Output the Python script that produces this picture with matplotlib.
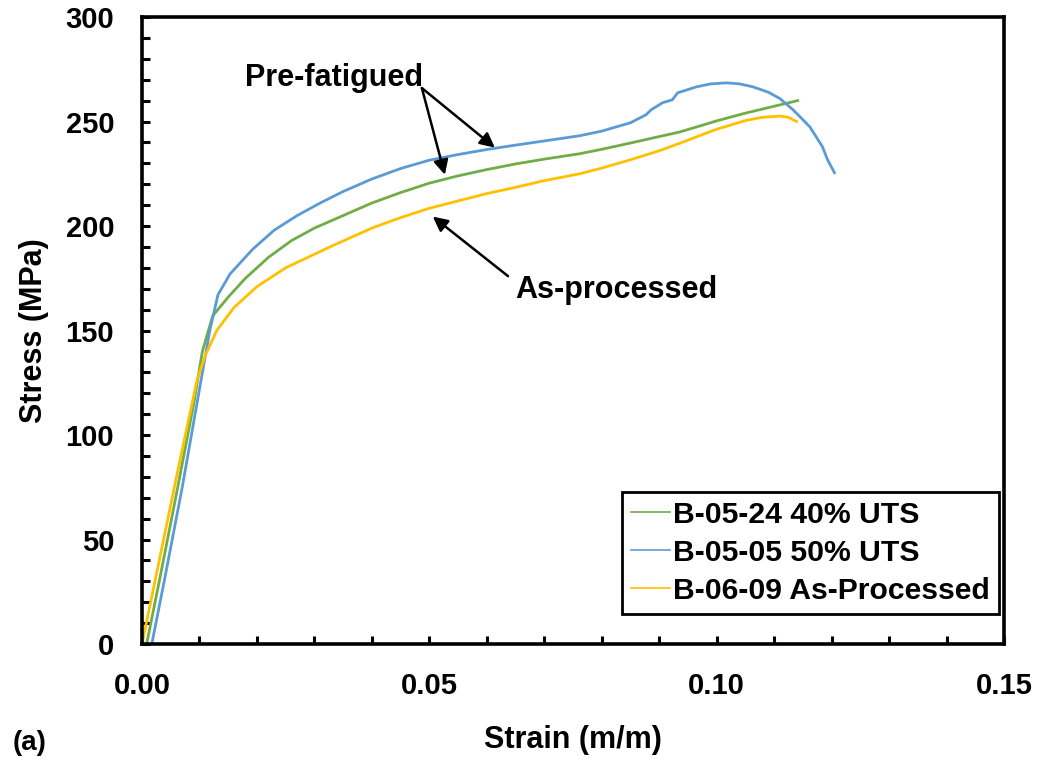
import matplotlib
matplotlib.use("Agg")
import matplotlib.pyplot as plt
from matplotlib.ticker import MultipleLocator

plt.rcParams['font.family'] = ['Liberation Sans', 'DejaVu Sans']
plt.rcParams['font.weight'] = 'bold'

# ---- data ----
green_label = "B-05-24 40% UTS"
green_strain = [0.0008, 0.003, 0.006, 0.009, 0.0105, 0.0123, 0.015, 0.018, 0.022, 0.026, 0.030,
                0.035, 0.040, 0.045, 0.050, 0.055, 0.060, 0.065, 0.070, 0.0762, 0.080, 0.085,
                0.090, 0.0936, 0.097, 0.100, 0.105, 0.110, 0.1141]
green_stress = [0, 30, 72, 115, 140, 157, 166, 175, 185, 193, 199,
                205, 211, 216, 220.5, 224, 227, 229.7, 232, 234.6, 236.7, 239.7,
                242.8, 245, 247.8, 250.3, 254, 257.3, 260]

blue_label = "B-05-05 50% UTS"
blue_strain = [0.0017, 0.004, 0.007, 0.010, 0.0118, 0.0132, 0.0153, 0.0193, 0.023, 0.027, 0.031,
               0.035, 0.040, 0.045, 0.050, 0.055, 0.060, 0.065, 0.070, 0.0762, 0.080, 0.085,
               0.0877, 0.0886, 0.0906, 0.0923, 0.0932, 0.0965, 0.0990, 0.1017, 0.1040, 0.1063,
               0.1090, 0.111, 0.1133, 0.1162, 0.1184, 0.1193, 0.1205]
blue_stress = [0, 32, 75, 122, 150, 167, 177, 189, 198, 205, 211,
               216.5, 222.5, 227.5, 231.5, 234.2, 236.6, 238.7, 240.7, 243.2, 245.4, 249.4,
               253.2, 255.6, 259, 260.4, 263.7, 266.6, 268, 268.5, 268, 266.6,
               264, 261, 255.6, 247.5, 238, 231.7, 225.5]

yellow_label = "B-06-09 As-Processed"
yellow_strain = [0.000, 0.003, 0.006, 0.0096, 0.011, 0.013, 0.016, 0.020, 0.025, 0.0327, 0.040,
                 0.045, 0.050, 0.055, 0.060, 0.065, 0.070, 0.0762, 0.080, 0.085, 0.090, 0.0936,
                 0.097, 0.100, 0.1052, 0.108, 0.111, 0.1125, 0.1139]
yellow_stress = [0, 40, 80, 126.6, 138, 150, 161, 171, 180, 190, 199,
                 204, 208.5, 212, 215.5, 218.5, 221.7, 225, 227.7, 231.7, 236, 239.6,
                 243.2, 246.3, 250.6, 252, 252.6, 252, 250]

green_color = "#70AD47"
blue_color = "#5B9BD5"
yellow_color = "#FFC000"

xticks = [0.00, 0.05, 0.10, 0.15]
xticklabels = ["0.00", "0.05", "0.10", "0.15"]
yticks = [0, 50, 100, 150, 200, 250, 300]

fig = plt.figure(figsize=(10.42, 7.59), dpi=100)
ax = fig.add_axes([0.1363, 0.1515, 0.8272, 0.8261])

ax.plot(green_strain, green_stress, color=green_color, lw=2.0, label=green_label)
ax.plot(blue_strain, blue_stress, color=blue_color, lw=2.0, label=blue_label)
ax.plot(yellow_strain, yellow_stress, color=yellow_color, lw=2.0, label=yellow_label)

ax.set_xlim(0, 0.15)
ax.set_ylim(0, 300)
ax.set_xticks(xticks)
ax.set_xticklabels(xticklabels)
ax.set_yticks(yticks)
ax.xaxis.set_minor_locator(MultipleLocator(0.01))
ax.yaxis.set_minor_locator(MultipleLocator(10))
ax.tick_params(which='both', direction='in', width=2.2, labelsize=21, pad=20)
ax.tick_params(which='major', length=6)
ax.tick_params(which='minor', length=6)
for lab in ax.get_xticklabels() + ax.get_yticklabels():
    lab.set_fontweight('bold')
for s in ax.spines.values():
    s.set_linewidth(2.6)

ax.set_xlabel("Strain (m/m)", fontsize=22, fontweight='bold', labelpad=18)
ax.set_ylabel("Stress (MPa)", fontsize=22, fontweight='bold', labelpad=12)

arrow = dict(arrowstyle='-|>', color='black', lw=1.8, mutation_scale=22, shrinkA=0, shrinkB=0)
ax.annotate("", xy=(0.0614, 237.5), xytext=(0.0487, 266), arrowprops=arrow)
ax.annotate("", xy=(0.0527, 224.5), xytext=(0.0487, 266), arrowprops=arrow)
ax.text(0.0335, 271, "Pre-fatigued", fontsize=22, fontweight='bold', ha='center', va='center')
ax.annotate("", xy=(0.0506, 204.5), xytext=(0.0637, 176), arrowprops=arrow)
ax.text(0.0826, 169.5, "As-processed", fontsize=22, fontweight='bold', ha='center', va='center')

leg = ax.legend(loc='lower right', bbox_to_anchor=(0.994, 0.048), fontsize=21.7,
                frameon=True, fancybox=False, framealpha=1, edgecolor='black',
                handlelength=1.3, handletextpad=0.1, labelspacing=0.33, borderpad=0.3,
                borderaxespad=0)
leg.get_frame().set_linewidth(2.0)
for ln in leg.get_lines():
    ln.set_linewidth(1.2)
for t in leg.get_texts():
    t.set_fontweight('bold')

fig.text(0.012, 0.004, "(a)", fontsize=20, fontweight='bold', ha='left', va='bottom')

fig.savefig("out.png", dpi=100, facecolor='white')
